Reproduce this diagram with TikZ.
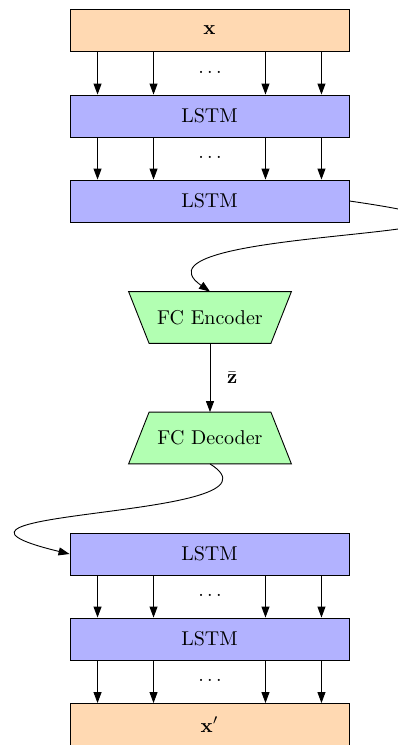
\documentclass[tikz,border=0pt]{standalone}
\usetikzlibrary{arrows.meta,calc,backgrounds}
\begin{document}
\begin{tikzpicture}[x=0.5pt,y=-0.5pt,
  arr/.style={-{Triangle[length=5.5pt,width=4pt]},line width=0.45pt},
  iobox/.style={draw=black,line width=0.45pt,fill=orange!30,minimum width=139.5pt,minimum height=21pt,inner sep=0pt},
  lstmbox/.style={draw=black,line width=0.45pt,fill=blue!30,minimum width=139.5pt,minimum height=21pt,inner sep=0pt},
  fcbox/.style={minimum width=81pt,minimum height=25.5pt,inner sep=0pt},
  fcshape/.style={draw=black,line width=0.45pt,fill=green!30},
  dotsnode/.style={inner sep=0pt}]
\useasboundingbox (0,0) rectangle (397,745);
\node[iobox] (x) at (209.5,30.5) {$\mathbf{x}$};
\node[lstmbox] (l1) at (209.5,116) {LSTM};
\node[lstmbox] (l2) at (209.5,201) {LSTM};
\node[fcbox] (enc) at (210,317.5) {FC Encoder};
\node[fcbox] (dec) at (210,438) {FC Decoder};
\begin{scope}[on background layer]
\draw[fcshape] (enc.north west) -- (enc.north east) -- ($(enc.south east)+(-20.5,0)$) -- ($(enc.south west)+(20.5,0)$) -- cycle;
\draw[fcshape] (dec.south west) -- (dec.south east) -- ($(dec.north east)+(-20.5,0)$) -- ($(dec.north west)+(20.5,0)$) -- cycle;
\end{scope}
\node[lstmbox] (l3) at (209.5,554) {LSTM};
\node[lstmbox] (l4) at (209.5,639) {LSTM};
\node[iobox] (xp) at (209.5,724.5) {$\mathbf{x}'$};
\node[dotsnode] (d1) at (210,72) {$\dots$};
\node[dotsnode] (d2) at (210,157) {$\dots$};
\node[dotsnode] (d3) at (210,595) {$\dots$};
\node[dotsnode] (d4) at (210,680) {$\dots$};
\foreach \a/\b in {x/l1,l1/l2,l3/l4,l4/xp}{
  \foreach \f in {0.1,0.3,0.7,0.9}{
    \draw[arr] ($(\a.south west)!\f!(\a.south east)$) -- ($(\b.north west)!\f!(\b.north east)$);
  }
}
\draw[arr] (enc.south) -- node[right=5pt] {$\bar{\mathbf{z}}$} (dec.north);
\draw[arr] (l2.east) .. controls (620,240) and (115,225) .. (enc.north);
\draw[arr] (dec.south) .. controls (300,520) and (-120,508) .. (l3.west);
\end{tikzpicture}
\end{document}
